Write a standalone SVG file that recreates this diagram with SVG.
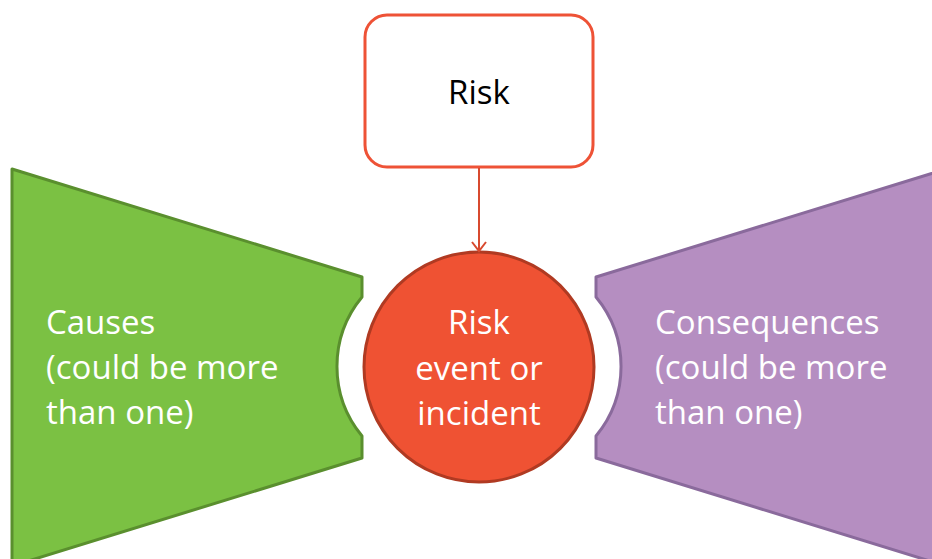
<svg xmlns="http://www.w3.org/2000/svg" width="932" height="559" viewBox="0 0 932 559">
<style>
.lbl{font-family:"Open Sans","Liberation Sans",sans-serif;font-size:33px;fill:#ffffff}
.dark{fill:#000000}
</style>
<defs>
<marker id="arr" markerWidth="16" markerHeight="16" refX="14" refY="8" orient="auto" markerUnits="userSpaceOnUse" viewBox="0 0 16 16">
<path d="M5,1 L14,8 L5,15" fill="none" stroke="#d84a2f" stroke-width="2"/>
</marker>
</defs>
<rect width="932" height="559" fill="#ffffff"/>
<g id="causes">
<path d="M12,169 L362,277 L362,297 A109,109 0 0 0 362,436 L362,458 L12,566 Z" fill="#7bc143" stroke="#5a8f2e" stroke-width="3" stroke-linejoin="round"/>
<text class="lbl" x="46" y="334">Causes</text>
<text class="lbl" x="46" y="379">(could be more</text>
<text class="lbl" x="46" y="424">than one)</text>
</g>
<g id="consequences">
<path d="M946,169 L596,277 L596,297 A109,109 0 0 1 596,436 L596,458 L946,566 Z" fill="#b58ec1" stroke="#8a6a9c" stroke-width="3" stroke-linejoin="round"/>
<text class="lbl" x="655" y="334">Consequences</text>
<text class="lbl" x="655" y="379">(could be more</text>
<text class="lbl" x="655" y="424">than one)</text>
</g>
<g id="risk">
<rect x="365" y="15" width="228" height="152" rx="22" ry="22" fill="#ffffff" stroke="#ee5236" stroke-width="3"/>
<text class="lbl dark" x="479" y="104" text-anchor="middle">Risk</text>
</g>
<g id="event">
<circle cx="479" cy="367" r="115" fill="#ef5233" stroke="#b03a22" stroke-width="3"/>
<text class="lbl" x="479" y="334" text-anchor="middle">Risk</text>
<text class="lbl" x="479" y="380" text-anchor="middle">event or</text>
<text class="lbl" x="479" y="425" text-anchor="middle">incident</text>
</g>
<g id="connectors">
<line x1="479" y1="168" x2="479" y2="251" stroke="#d84a2f" stroke-width="2" marker-end="url(#arr)"/>
</g>
</svg>
